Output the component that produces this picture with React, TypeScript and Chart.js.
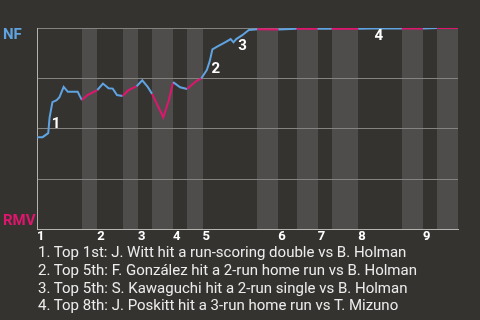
import React, { useEffect, useRef } from "react";
import { Chart, registerables } from "chart.js";

Chart.register(...registerables);

// ---- data ----
const halfInningStarts = [0, 32, 43, 61, 72, 82, 97, 107, 118, 157, 172, 185, 200, 210, 229, 260, 275, 285];
const gameEnd = 300;
const inningLabels = ["1", "2", "3", "4", "5", "6", "7", "8", "9"];
const pitchIndex = [
  0, 4, 8, 9, 11, 14, 16, 19, 22, 26,
  29, 32, 36, 43, 47, 51, 54, 57, 61, 65,
  71, 75, 79, 82, 90, 94, 97, 102, 107, 110,
  114, 117, 121, 123, 125, 129, 134, 138, 140, 142,
  146, 151, 157, 172, 185, 200, 210, 229, 239, 260,
  275, 285, 300,
];
const winProb = [
  0.458, 0.458, 0.478, 0.557, 0.632, 0.642, 0.657, 0.708, 0.683, 0.683,
  0.683, 0.642, 0.667, 0.692, 0.724, 0.701, 0.699, 0.667, 0.662, 0.69,
  0.711, 0.74, 0.706, 0.673, 0.557, 0.642, 0.731, 0.706, 0.697, 0.716,
  0.739, 0.749, 0.791, 0.833, 0.894, 0.91, 0.929, 0.945, 0.929, 0.945,
  0.963, 0.99, 0.994, 0.992, 0.996, 0.996, 0.996, 0.996, 0.997, 0.998,
  0.998, 1.0, 1.0,
];
const eventLabels = ["1", "2", "3", "4"];
const eventPitch = [9, 123, 142, 239];
const eventTexts = [
  "1. Top 1st: J. Witt hit a run-scoring double vs B. Holman",
  "2. Top 5th: F. González hit a 2-run home run vs B. Holman",
  "3. Top 5th: S. Kawaguchi hit a 2-run single vs B. Holman",
  "4. Top 8th: J. Poskitt hit a 3-run home run vs T. Mizuno",
];
const awayTeam = "NF";
const homeTeam = "RMV";

// ---- styles ----
const BG = "#353330";
const BAND = "#4f4d4b";
const BLUE = "#5fa3e0";
const PINK = "#e0156e";
const GRID = "#85837f";
const BORDER = "#b5b3b0";
const FONT = "Roboto";

function halfIndexAt(x: number): number {
  let idx = 0;
  for (let i = 0; i < halfInningStarts.length; i++) {
    if (halfInningStarts[i] <= x) idx = i;
  }
  return idx;
}

const topInningStarts = halfInningStarts.filter((_, i) => i % 2 === 0);

const bandsPlugin = {
  id: "bands",
  beforeDraw(chart: any) {
    const { ctx, chartArea, scales } = chart;
    const xs = scales.x;
    ctx.save();
    ctx.fillStyle = BAND;
    for (let i = 1; i < halfInningStarts.length; i += 2) {
      const s = Math.round(xs.getPixelForValue(halfInningStarts[i]));
      const endVal = i + 1 < halfInningStarts.length ? halfInningStarts[i + 1] : gameEnd;
      const e = Math.round(xs.getPixelForValue(endVal));
      ctx.fillRect(s, chartArea.top, e - s, chartArea.bottom - chartArea.top);
    }
    ctx.restore();
  },
};

const labelsPlugin = {
  id: "eventLabels",
  afterDatasetsDraw(chart: any) {
    const { ctx, scales } = chart;
    ctx.save();
    ctx.fillStyle = "#ffffff";
    ctx.font = `bold 15px ${FONT}`;
    ctx.textAlign = "left";
    ctx.textBaseline = "alphabetic";
    eventLabels.forEach((lab, i) => {
      const p = eventPitch[i];
      const k = pitchIndex.indexOf(p);
      const px = scales.x.getPixelForValue(p);
      const py = scales.y.getPixelForValue(winProb[k]);
      ctx.fillText(lab, px + 2, py + 11);
    });
    ctx.restore();
  },
  afterDraw(chart: any) {
    const { ctx, chartArea } = chart;
    ctx.save();
    ctx.font = `bold 15px ${FONT}`;
    ctx.textAlign = "left";
    ctx.textBaseline = "alphabetic";
    ctx.fillStyle = BLUE;
    ctx.fillText(awayTeam, 3, chartArea.top + 11);
    ctx.fillStyle = PINK;
    ctx.fillText(homeTeam, 3, chartArea.bottom - 4);
    ctx.restore();
  },
};

export default function App() {
  const ref = useRef<HTMLCanvasElement>(null);
  useEffect(() => {
    if (!ref.current) return;
    const chart = new Chart(ref.current, {
      type: "line",
      data: {
        datasets: [
          {
            data: pitchIndex.map((x, i) => ({ x, y: winProb[i] })),
            borderWidth: 2,
            pointRadius: 0,
            tension: 0,
            fill: false,
            borderColor: BLUE,
            segment: {
              borderColor: (c: any) =>
                halfIndexAt((c.p0.parsed.x + c.p1.parsed.x) / 2) % 2 === 0 ? BLUE : PINK,
            },
          },
        ],
      },
      options: {
        responsive: false,
        animation: false,
        layout: { padding: { left: 37, right: 22, top: 28, bottom: 75 } },
        plugins: { legend: { display: false }, tooltip: { enabled: false } },
        scales: {
          x: {
            type: "linear",
            min: 0,
            max: gameEnd,
            grid: { display: false, drawTicks: false },
            border: { display: true, color: BORDER, width: 1 },
            afterBuildTicks: (scale: any) => {
              scale.ticks = topInningStarts.map((v) => ({ value: v }));
            },
            ticks: {
              autoSkip: false,
              maxRotation: 0,
              align: "start",
              padding: 0,
              color: "#ffffff",
              font: { family: FONT, size: 13, weight: "bold" },
              callback: (_v: any, i: number) => inningLabels[i],
            },
          },
          y: {
            min: 0,
            max: 1,
            grid: { color: GRID, drawTicks: false, lineWidth: 1 },
            border: { display: true, color: BORDER, width: 1 },
            ticks: { display: false, stepSize: 0.25 },
          },
        },
      },
      plugins: [bandsPlugin, labelsPlugin],
    } as any);
    return () => chart.destroy();
  }, []);

  return (
    <div
      style={{
        position: "fixed",
        left: 0,
        top: 0,
        width: 480,
        height: 320,
        background: BG,
        overflow: "hidden",
      }}
    >
      <canvas ref={ref} width={480} height={320} style={{ display: "block" }} />
      <div
        style={{
          position: "absolute",
          left: 38,
          top: 244,
          fontFamily: FONT,
          fontSize: 15,
          lineHeight: "17.8px",
          color: "#ececec",
          whiteSpace: "nowrap",
        }}
      >
        {eventTexts.map((t) => (
          <div key={t}>{t}</div>
        ))}
      </div>
    </div>
  );
}
